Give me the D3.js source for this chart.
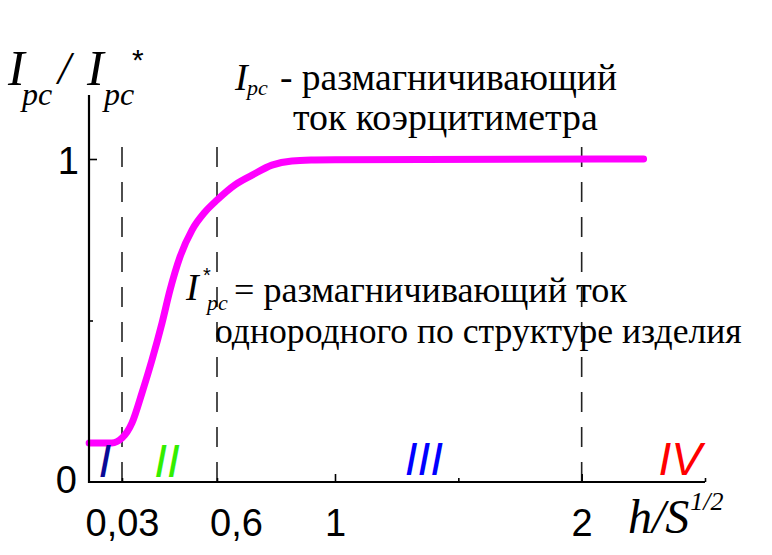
<!DOCTYPE html>
<html><head><meta charset="utf-8">
<script src="https://cdn.jsdelivr.net/npm/d3@7"></script>
<style>
html,body{margin:0;padding:0;background:#fff;}
svg{display:block;}
</style></head>
<body>
<script>
// ---- data ----
const curveX = [0.001, 0.021, 0.03, 0.09, 0.15, 0.21, 0.27, 0.318, 0.378, 0.45, 0.528, 0.6, 0.661, 0.719, 0.786, 0.854, 0.932, 1.0, 2.251];
const curveY = [0.121, 0.121, 0.136, 0.183, 0.276, 0.378, 0.492, 0.594, 0.697, 0.78, 0.836, 0.873, 0.92, 0.95, 0.981, 0.994, 0.997, 0.998, 1.0];
const boundaries = [0.03, 0.6, 2];
const xTickValues = [0.03, 0.6, 1, 1.5, 2, 2.5];
const xTickLabels = ["0,03", "0,6", "1", "", "2", ""];
const yTickValues = [0, 0.5, 1];
const yTickLabels = ["0", "", "1"];
const regionNames = ["I", "II", "III", "IV"];
const regionCenters = [0.015, 0.3, 1.36, 2.4];
const regionColors = ["#0a0a96", "#33ee00", "#0000ff", "#ff0000"];

// pick an installed serif face that has Cyrillic glyphs
function pickSerif() {
  const cands = ["Liberation Serif", "Times New Roman", "Tinos", "DejaVu Serif", "Noto Serif", "FreeSerif", "PT Serif", "Noto Serif CJK SC", "Noto Serif CJK JP"];
  const c = document.createElement("canvas").getContext("2d");
  const s = "размагничивающий ток однородного";
  c.font = "40px monospace"; const m = c.measureText(s).width;
  c.font = "40px sans-serif"; const sa = c.measureText(s).width;
  for (const f of cands) {
    c.font = `40px "${f}", monospace`; const a = c.measureText(s).width;
    c.font = `40px "${f}", sans-serif`; const b = c.measureText(s).width;
    if (Math.abs(a - m) > 0.5 && Math.abs(b - sa) > 0.5) return f;
  }
  return "Liberation Serif";
}
const CYR = pickSerif();
const SERIF = `"Liberation Serif", "${CYR}", serif`;
const CYRSERIF = `"${CYR}", "Liberation Serif", serif`;
const SANS = "'Liberation Sans', Arial, sans-serif";

const W = 772, H = 555;
const svg = d3.select("body").append("svg").attr("width", W).attr("height", H);

// schematic (piecewise-linear) x axis
const x = d3.scaleLinear().domain([0, 0.03, 0.6, 1, 2.5]).range([88, 122, 217, 335, 705]);
const y = d3.scaleLinear().domain([0, 1]).range([482, 159]);

// dashed boundaries
svg.append("g").selectAll("line").data(boundaries).join("line")
  .attr("x1", d => x(d)).attr("x2", d => x(d))
  .attr("y1", y(1.037)).attr("y2", y(0))
  .attr("stroke", "#222").attr("stroke-width", 1.6).attr("stroke-dasharray", "20,15");

// curve
const pts = curveX.map((v, i) => [v, curveY[i]]);
svg.append("path").datum(pts)
  .attr("fill", "none").attr("stroke", "#ff00ff").attr("stroke-width", 7)
  .attr("stroke-linecap", "round").attr("stroke-linejoin", "round")
  .attr("d", d3.line().x(d => x(d[0])).y(d => y(d[1])).curve(d3.curveMonotoneX));

// axes
const xAxis = d3.axisBottom(x).tickValues(xTickValues).tickSize(0).tickFormat("");
const gx = svg.append("g").attr("transform", `translate(0,${y(0)})`).call(xAxis);
gx.select(".domain").attr("stroke", "#000").attr("stroke-width", 2.2).attr("d", `M${x(0)},0H${x(2.5)}`);
gx.selectAll(".tick line").attr("stroke", "#000").attr("stroke-width", 1.6)
  .attr("y2", d => (d === 1 || d === 2) ? -8 : -4);
gx.selectAll(".tick").append("text")
  .attr("font-family", SANS).attr("fill", "#000").attr("font-size", 38)
  .attr("text-anchor", "middle").attr("y", 54)
  .attr("dx", d => d === 0.6 ? 19 : 0)
  .text((d, i) => xTickLabels[i]);

const yAxis = d3.axisLeft(y).tickValues(yTickValues).tickSize(0).tickFormat("");
const gy = svg.append("g").attr("transform", `translate(${x(0) + 1},0)`).call(yAxis);
gy.select(".domain").attr("stroke", "#000").attr("stroke-width", 2.2).attr("d", `M0,95V${y(0) + 1}`);
gy.selectAll(".tick line").attr("stroke", "#000").attr("stroke-width", 1.6)
  .attr("x2", d => d === 1 ? 8 : (d === 0.5 ? 4 : 0));
gy.selectAll(".tick").append("text")
  .attr("font-family", SANS).attr("fill", "#000").attr("font-size", 38)
  .attr("text-anchor", "end").attr("x", d => d === 0 ? -12 : -10).attr("dy", d => d === 0 ? 10 : 14)
  .text((d, i) => yTickLabels[i]);

// region labels
svg.append("g").selectAll("text").data(regionNames).join("text")
  .attr("font-family", SANS).attr("font-style", "italic").attr("font-size", 46)
  .attr("text-anchor", "middle")
  .attr("x", (d, i) => x(regionCenters[i])).attr("y", (d, i) => i < 2 ? 477 : 475)
  .attr("fill", (d, i) => regionColors[i]).text(d => d);

// helper for text pieces
const t = svg.append("g").attr("fill", "#000");
function txt(s, px, py, size, italic, fam) {
  return t.append("text").attr("x", px).attr("y", py).attr("font-size", size)
    .attr("font-family", fam || SERIF).attr("font-style", italic ? "italic" : "normal").text(s);
}
// fit a line of text to a target width by scaling its font size
function fit(sel, width) {
  const w = sel.node().getComputedTextLength();
  const s = +sel.attr("font-size");
  sel.attr("font-size", Math.min(40, s * width / w));
  return sel;
}

// y-axis title
txt("I", 8, 85, 50, true);
txt("pc", 22, 105, 32, true);
txt("/", 58, 84, 46, true);
txt("I", 87, 85, 50, true);
txt("pc", 104, 105, 32, true);
txt("*", 132, 70, 30, false, SANS);

// x-axis title
const hs = txt("h/S", 628, 533, 48, true);
const hsEnd = 628 + hs.node().getComputedTextLength();
txt("1/2", Math.min(hsEnd + 1, 702), 510, 26, true);

// annotation 1
txt("I", 235, 90, 38, true);
txt("pc", 247, 95, 22, true);
fit(txt("- размагничивающий", 280, 90, 36, false, CYRSERIF), 337);
fit(txt("ток коэрцитиметра", 293, 130, 36, false, CYRSERIF), 305);

// annotation 2
txt("I", 186, 300, 38, true);
txt("*", 203, 282, 20, false, SANS);
txt("pc", 207, 310, 22, true);
fit(txt("= размагничивающий ток", 234, 302, 36, false, CYRSERIF), 393);
fit(txt("однородного по структуре изделия", 215, 343, 36, false, CYRSERIF), 527);
</script>
</body></html>
